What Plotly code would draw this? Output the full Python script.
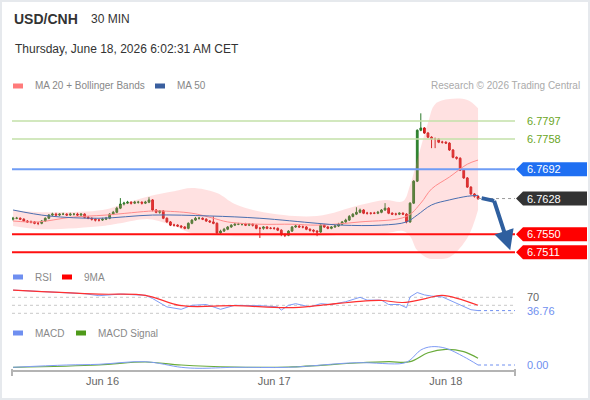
import pandas as pd
import plotly.graph_objects as go

# ---- data (30 min bars, Jun 15 11:30 -> Jun 18 04:30) ----
bar_start = "2026-06-15 11:30"
first_open = 6.7583
close = [6.7585, 6.7585, 6.7583, 6.7579, 6.7577, 6.7577, 6.7574, 6.7574, 6.7579, 6.7585,
         6.7592, 6.7594, 6.7592, 6.7594, 6.7594, 6.7592, 6.7594, 6.7594, 6.7592, 6.7594,
         6.7587, 6.7585, 6.7583, 6.7581, 6.7581, 6.7583, 6.7585, 6.7594, 6.7598, 6.7607,
         6.7616, 6.7618, 6.7620, 6.7618, 6.7620, 6.7620, 6.7618, 6.7620, 6.7625, 6.7603,
         6.7598, 6.7601, 6.7585, 6.7577, 6.7570, 6.7570, 6.7568, 6.7566, 6.7563, 6.7574,
         6.7581, 6.7585, 6.7585, 6.7583, 6.7579, 6.7577, 6.7574, 6.7553, 6.7557, 6.7561,
         6.7566, 6.7570, 6.7572, 6.7572, 6.7572, 6.7570, 6.7572, 6.7570, 6.7563, 6.7563,
         6.7566, 6.7563, 6.7563, 6.7563, 6.7559, 6.7550, 6.7548, 6.7557, 6.7566, 6.7568,
         6.7566, 6.7566, 6.7561, 6.7559, 6.7557, 6.7555, 6.7570, 6.7566, 6.7563, 6.7566,
         6.7568, 6.7572, 6.7577, 6.7581, 6.7589, 6.7594, 6.7598, 6.7603, 6.7596, 6.7596,
         6.7596, 6.7596, 6.7598, 6.7603, 6.7607, 6.7596, 6.7594, 6.7594, 6.7596, 6.7594,
         6.7577, 6.7618, 6.7666, 6.7777, 6.7782, 6.7771, 6.7762, 6.7758, 6.7758, 6.7751,
         6.7751, 6.7749, 6.7734, 6.7718, 6.7716, 6.7690, 6.7673, 6.7653, 6.7638, 6.7633,
         6.7628]
high = [6.7588, 6.7588, 6.7587, 6.7585, 6.7581, 6.7580, 6.7579, 6.7577, 6.7581, 6.7587,
        6.7594, 6.7597, 6.7597, 6.7596, 6.7597, 6.7596, 6.7597, 6.7596, 6.7597, 6.7596,
        6.7596, 6.7590, 6.7587, 6.7585, 6.7584, 6.7586, 6.7588, 6.7596, 6.7601, 6.7610,
        6.7629, 6.7621, 6.7623, 6.7622, 6.7623, 6.7623, 6.7622, 6.7623, 6.7631, 6.7627,
        6.7605, 6.7603, 6.7603, 6.7587, 6.7579, 6.7573, 6.7572, 6.7570, 6.7568, 6.7576,
        6.7583, 6.7588, 6.7588, 6.7587, 6.7585, 6.7581, 6.7589, 6.7576, 6.7560, 6.7564,
        6.7568, 6.7572, 6.7575, 6.7575, 6.7574, 6.7575, 6.7574, 6.7574, 6.7572, 6.7566,
        6.7568, 6.7568, 6.7566, 6.7566, 6.7565, 6.7561, 6.7552, 6.7559, 6.7568, 6.7571,
        6.7570, 6.7569, 6.7568, 6.7563, 6.7561, 6.7559, 6.7572, 6.7572, 6.7568, 6.7568,
        6.7571, 6.7575, 6.7579, 6.7584, 6.7592, 6.7596, 6.7609, 6.7606, 6.7605, 6.7599,
        6.7598, 6.7599, 6.7601, 6.7605, 6.7618, 6.7609, 6.7598, 6.7597, 6.7598, 6.7598,
        6.7596, 6.7620, 6.7668, 6.7779, 6.7814, 6.7784, 6.7773, 6.7764, 6.7761, 6.7760,
        6.7754, 6.7753, 6.7751, 6.7736, 6.7720, 6.7718, 6.7692, 6.7675, 6.7655, 6.7640,
        6.7635]
low = [6.7580, 6.7583, 6.7581, 6.7577, 6.7575, 6.7574, 6.7572, 6.7570, 6.7572, 6.7577,
       6.7583, 6.7590, 6.7590, 6.7590, 6.7592, 6.7590, 6.7590, 6.7591, 6.7590, 6.7590,
       6.7585, 6.7583, 6.7580, 6.7578, 6.7578, 6.7579, 6.7581, 6.7583, 6.7592, 6.7596,
       6.7605, 6.7613, 6.7616, 6.7615, 6.7616, 6.7617, 6.7615, 6.7616, 6.7618, 6.7600,
       6.7596, 6.7595, 6.7583, 6.7575, 6.7568, 6.7567, 6.7566, 6.7563, 6.7561, 6.7561,
       6.7572, 6.7579, 6.7582, 6.7581, 6.7577, 6.7575, 6.7572, 6.7551, 6.7550, 6.7555,
       6.7559, 6.7564, 6.7568, 6.7570, 6.7569, 6.7568, 6.7568, 6.7567, 6.7561, 6.7542,
       6.7560, 6.7561, 6.7561, 6.7560, 6.7557, 6.7546, 6.7544, 6.7546, 6.7555, 6.7564,
       6.7564, 6.7563, 6.7559, 6.7556, 6.7554, 6.7546, 6.7553, 6.7564, 6.7561, 6.7561,
       6.7564, 6.7566, 6.7570, 6.7575, 6.7579, 6.7587, 6.7592, 6.7596, 6.7594, 6.7593,
       6.7593, 6.7594, 6.7594, 6.7596, 6.7601, 6.7594, 6.7592, 6.7591, 6.7592, 6.7592,
       6.7574, 6.7575, 6.7616, 6.7664, 6.7775, 6.7769, 6.7760, 6.7738, 6.7738, 6.7749,
       6.7748, 6.7747, 6.7732, 6.7716, 6.7713, 6.7688, 6.7671, 6.7651, 6.7636, 6.7630,
       6.7625]

# indicators, sampled at bar numbers
ma20_idx = [0, 7, 16, 26, 39, 41, 50, 56, 60, 69, 78, 85, 97, 110, 114, 117, 122, 127, 130]
ma20 = [6.7579, 6.7577, 6.7587, 6.7592, 6.7601, 6.7601, 6.7596, 6.7585, 6.7577, 6.7572,
        6.7572, 6.7570, 6.7577, 6.7589, 6.7618, 6.7649, 6.7675, 6.7703, 6.7712]
ma50_idx = [0, 10, 24, 39, 55, 69, 85, 92, 103, 110, 113, 117, 122, 127, 130]
ma50 = [6.7603, 6.7590, 6.7585, 6.7592, 6.7590, 6.7585, 6.7574, 6.7570, 6.7570, 6.7577,
        6.7592, 6.7614, 6.7625, 6.7633, 6.7635]
bb_idx = [0, 8, 25, 30, 38, 45, 50, 57, 62, 70, 85, 97, 104, 109, 111, 113, 116, 118, 122, 127, 130]
bb_upper = [6.7603, 6.7598, 6.7603, 6.7614, 6.7633, 6.7644, 6.7651, 6.7640, 6.7616, 6.7598,
            6.7590, 6.7614, 6.7625, 6.7622, 6.7657, 6.7712, 6.7793, 6.7834, 6.7845, 6.7843,
            6.7825]
bb_lower = [6.7568, 6.7561, 6.7568, 6.7574, 6.7583, 6.7568, 6.7552, 6.7548, 6.7546, 6.7546,
            6.7546, 6.7552, 6.7552, 6.7557, 6.7546, 6.7515, 6.7498, 6.7496, 6.7500, 6.7542,
            6.7603]

rsi_idx = [0, 10, 20, 24, 30, 37, 39, 43, 47, 50, 54, 58, 62, 69, 74, 75, 77, 79, 83, 86,
           89, 93, 97, 99, 103, 105, 108, 110, 111, 113, 115, 117, 120, 123, 126, 128, 130]
rsi = [88, 84, 79, 74, 78, 75, 67, 46, 40, 50, 52, 40, 50, 49, 46, 38, 50, 54, 46, 54,
       52, 59, 70, 63, 63, 52, 52, 44, 71, 82, 76, 73, 71, 59, 46, 39, 36.76]
rsi_ma_idx = [0, 24, 37, 47, 62, 77, 86, 97, 103, 109, 115, 120, 130]
rsi_ma = [88, 78, 75, 49, 49, 44, 50, 60, 62, 57, 66, 75, 50]
rsi_grid = [70, 50, 30]

macd_idx = [0, 15, 24, 37, 47, 52, 62, 77, 96, 109, 111, 114, 117, 121, 126, 130]
macd = [-0.00023, 0.0, 0.00007, 0.00033, -0.00023, -0.00033, -0.00023, -0.00023, 0.00023,
        0.00017, 0.0005, 0.0015, 0.00183, 0.00167, 0.00083, 0.0]
signal_idx = [0, 24, 37, 47, 62, 77, 96, 105, 111, 116, 121, 126, 130]
signal = [-0.00023, 0.0, 0.0003, 0.0, -0.0002, -0.0002, 0.0002, 0.00033, 0.00033, 0.00123,
          0.00157, 0.00133, 0.00067]

resistances = [6.7797, 6.7758]
pivot = 6.7692
last_price = 6.7628
supports = [6.7550, 6.7511]
rsi_last = 36.76
macd_last = 0.00

forecast_t = ["2026-06-18 05:00", "2026-06-18 06:45", "2026-06-18 09:00"]
forecast_p = [6.7629, 6.7623, 6.7515]

tick_vals = ["2026-06-16", "2026-06-17", "2026-06-18"]
tick_text = ["Jun 16", "Jun 17", "Jun 18"]

x_start, x_end = "2026-06-15 11:21", "2026-06-18 09:40"

times = pd.date_range(bar_start, periods=len(close), freq="30min")
opens = [first_open] + close[:-1]

# pane geometry
P_DOM, P_RNG = [0.3375, 0.7625], [6.7483, 6.7854]
R_DOM, R_RNG = [0.2025, 0.2925], [15.75, 105.75]
M_DOM, M_RNG = [0.075, 0.155], [-0.0005, 0.0027]

FONT = "Liberation Sans, Arial, sans-serif"
GREEN_TXT = "#6aa51e"
BLUE_TXT = "#6f8ff0"


def X(px):  # pixel -> paper x
    return (px - 12) / 503


def Y(py):  # pixel -> paper y
    return 1 - py / 400


def price_y(p):
    return P_DOM[0] + (p - P_RNG[0]) / (P_RNG[1] - P_RNG[0]) * (P_DOM[1] - P_DOM[0])


def at(idx):
    return [times[i] for i in idx]


fig = go.Figure()

# bollinger band
fig.add_trace(go.Scatter(x=at(bb_idx), y=bb_upper, mode="lines", line=dict(width=0, shape="spline"),
                         hoverinfo="skip"))
fig.add_trace(go.Scatter(x=at(bb_idx), y=bb_lower, mode="lines", line=dict(width=0, shape="spline"),
                         fill="tonexty", fillcolor="rgba(255,120,120,0.22)", hoverinfo="skip"))

# horizontal levels
for lv in resistances:
    fig.add_trace(go.Scatter(x=[x_start, x_end], y=[lv, lv], mode="lines",
                             line=dict(color="#c3e0a8", width=1.5)))
fig.add_trace(go.Scatter(x=[x_start, x_end], y=[pivot, pivot], mode="lines",
                         line=dict(color="#6f9cf5", width=2)))
for lv in supports:
    fig.add_trace(go.Scatter(x=[x_start, x_end], y=[lv, lv], mode="lines",
                             line=dict(color="#ff1010", width=2)))
fig.add_trace(go.Scatter(x=[times[-1], x_end], y=[last_price, last_price], mode="lines",
                         line=dict(color="#999", width=1, dash="dot")))

# moving averages
fig.add_trace(go.Scatter(x=at(ma20_idx), y=ma20, mode="lines",
                         line=dict(color="#ff8c8c", width=1, shape="spline")))
fig.add_trace(go.Scatter(x=at(ma50_idx), y=ma50, mode="lines",
                         line=dict(color="#4a6fb0", width=1, shape="spline")))

# candles
fig.add_trace(go.Candlestick(x=times, open=opens, high=high, low=low, close=close,
                             increasing=dict(line=dict(color="#2a7a2a", width=1), fillcolor="#2f8f2f"),
                             decreasing=dict(line=dict(color="#c81a1a", width=1), fillcolor="#e82020")))

# projected path
fig.add_trace(go.Scatter(x=forecast_t[:2], y=forecast_p[:2], mode="lines",
                         line=dict(color="#2f5f9f", width=4)))

# RSI pane
for g in rsi_grid:
    fig.add_trace(go.Scatter(x=[x_start, x_end], y=[g, g], yaxis="y2", mode="lines",
                             line=dict(color="#c8c8c8", width=1, dash="dot")))
fig.add_trace(go.Scatter(x=[times[-1], x_end], y=[rsi_last, rsi_last], yaxis="y2", mode="lines",
                         line=dict(color=BLUE_TXT, width=1, dash="dot")))
fig.add_trace(go.Scatter(x=at(rsi_idx), y=rsi, yaxis="y2", mode="lines",
                         line=dict(color="#7f9cf5", width=1)))
fig.add_trace(go.Scatter(x=at(rsi_ma_idx), y=rsi_ma, yaxis="y2", mode="lines",
                         line=dict(color="#ff3030", width=1.2, shape="spline")))

# MACD pane
fig.add_trace(go.Scatter(x=[times[-1], x_end], y=[macd_last, macd_last], yaxis="y3", mode="lines",
                         line=dict(color=BLUE_TXT, width=1, dash="dot")))
fig.add_trace(go.Scatter(x=at(signal_idx), y=signal, yaxis="y3", mode="lines",
                         line=dict(color="#6aab3a", width=1.2, shape="spline")))
fig.add_trace(go.Scatter(x=at(macd_idx), y=macd, yaxis="y3", mode="lines",
                         line=dict(color="#7f9cf5", width=1, shape="spline")))

fig.update_traces(showlegend=False)

ann = []
# arrow head of the projected path
ann.append(dict(x=forecast_t[2], y=forecast_p[2], ax=forecast_t[1], ay=forecast_p[1],
                xref="x", yref="y", axref="x", ayref="y", text="", showarrow=True,
                arrowhead=2, arrowsize=1, arrowwidth=4, arrowcolor="#2f5f9f"))

# right-hand labels and tags
for lv in resistances:
    ann.append(dict(x=X(525), y=price_y(lv), text=f"{lv:.4f}",
                    font=dict(color=GREEN_TXT, size=11)))
shapes = []
for lv, col in [(pivot, "#1f6ff2"), (last_price, "#333333"),
                (supports[0], "#ff0000"), (supports[1], "#ff0000")]:
    yc, h = price_y(lv), 7 / 400
    shapes.append(dict(type="path", xref="paper", yref="paper", fillcolor=col, line=dict(width=0),
                       path=f"M {X(516)},{yc} L {X(523)},{yc + h} L {X(587)},{yc + h} "
                            f"L {X(587)},{yc - h} L {X(523)},{yc - h} Z"))
    ann.append(dict(x=X(525), y=yc, text=f"{lv:.4f}", font=dict(color="white", size=11)))
ann.append(dict(x=X(525), y=rsi_grid[0], yref="y2", text=str(rsi_grid[0]),
                font=dict(color="#666", size=11)))
ann.append(dict(x=X(525), y=rsi_last, yref="y2", text=f"{rsi_last:.2f}",
                font=dict(color=BLUE_TXT, size=11)))
ann.append(dict(x=X(525), y=macd_last, yref="y3", text=f"{macd_last:.2f}",
                font=dict(color=BLUE_TXT, size=11)))

# header
ann.append(dict(x=X(12), y=Y(19), text="<b>USD/CNH</b>", font=dict(size=14, color="#333")))
ann.append(dict(x=X(89), y=Y(19), text="30 MIN", font=dict(size=12, color="#333")))
ann.append(dict(x=X(13), y=Y(49), text="Thursday, June 18, 2026 6:02:31 AM CET",
                font=dict(size=12, color="#333")))
ann.append(dict(x=X(582), y=Y(86), text="Research © 2026 Trading Central", xanchor="right",
                font=dict(size=10, color="#aaa")))

# pane legends
legend_items = [(86, 13, "#ff7b7b", "MA 20 + Bollinger Bands"), (86, 155, "#3a5f9f", "MA 50"),
                (277, 13, "#6f8ff0", "RSI"), (277, 62, "#ff0000", "9MA"),
                (333, 13, "#6f8ff0", "MACD"), (333, 76, "#4f9a1a", "MACD Signal")]
for ly, lx, col, txt in legend_items:
    shapes.append(dict(type="rect", xref="paper", yref="paper", x0=X(lx), x1=X(lx + 10),
                       y0=Y(ly + 2.5), y1=Y(ly - 2.5), fillcolor=col, line=dict(width=0)))
    ann.append(dict(x=X(lx + 20), y=Y(ly), text=txt, font=dict(size=10, color="#888")))

for a in ann:
    a.setdefault("xref", "paper")
    a.setdefault("yref", "paper")
    a.setdefault("showarrow", False)
    a.setdefault("xanchor", "left")
    a.setdefault("yanchor", "middle")

# axis end ticks and outer frame
for px in (12, 515):
    shapes.append(dict(type="line", xref="paper", yref="paper", x0=X(px), x1=X(px),
                       y0=Y(369), y1=Y(376), line=dict(color="#b4b4b4", width=2)))
shapes.append(dict(type="rect", xref="paper", yref="paper", x0=X(1), x1=X(589), y0=Y(399), y1=Y(1),
                   line=dict(color="#e6e9ed", width=2)))

fig.update_layout(
    width=590, height=400,
    margin=dict(l=12, r=75, t=0, b=0),
    paper_bgcolor="white", plot_bgcolor="white",
    font=dict(family=FONT, color="#666"),
    showlegend=False,
    xaxis=dict(type="date", range=[x_start, x_end], anchor="y3", showgrid=False, zeroline=False,
               showline=True, linecolor="#b4b4b4", linewidth=2, ticks="",
               tickvals=tick_vals, ticktext=tick_text, tickfont=dict(size=11, color="#666"),
               rangeslider=dict(visible=False)),
    yaxis=dict(domain=P_DOM, range=P_RNG, visible=False),
    yaxis2=dict(domain=R_DOM, range=R_RNG, visible=False),
    yaxis3=dict(domain=M_DOM, range=M_RNG, visible=False),
    annotations=ann,
    shapes=shapes,
)

fig.write_html("out.html", config={"displayModeBar": False},
               post_script="document.body.style.margin='0';")
